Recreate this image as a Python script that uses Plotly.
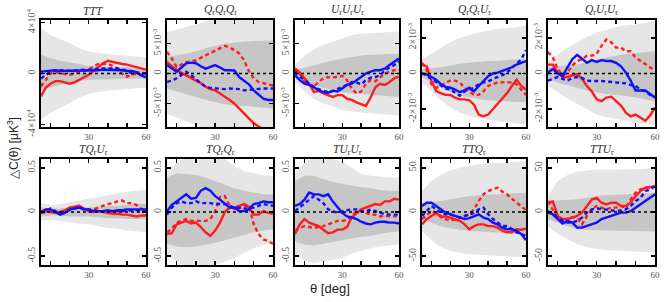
import plotly.graph_objects as go

# ---------------- data ----------------
THETA = [5, 7.5, 10, 12.5, 15, 17.5, 20, 22.5, 25, 27.5, 30, 32.5, 35, 37.5,
         40, 42.5, 45, 47.5, 50, 52.5, 55, 57.5, 60]
THETA_BAND = [5, 10, 15, 20, 25, 30, 35, 40, 45, 50, 55, 60]

PANELS = ["TTT", "QQQ", "UUU", "QQU", "QUU", "TQU", "TQQ", "TUU", "TTQ", "TTU"]
TITLES = ["<i>TTT</i>",
          "<i>Q</i><sub>r</sub><i>Q</i><sub>r</sub><i>Q</i><sub>r</sub>",
          "<i>U</i><sub>r</sub><i>U</i><sub>r</sub><i>U</i><sub>r</sub>",
          "<i>Q</i><sub>r</sub><i>Q</i><sub>r</sub><i>U</i><sub>r</sub>",
          "<i>Q</i><sub>r</sub><i>U</i><sub>r</sub><i>U</i><sub>r</sub>",
          "<i>TQ</i><sub>r</sub><i>U</i><sub>r</sub>",
          "<i>TQ</i><sub>r</sub><i>Q</i><sub>r</sub>",
          "<i>TU</i><sub>r</sub><i>U</i><sub>r</sub>",
          "<i>TTQ</i><sub>r</sub>",
          "<i>TTU</i><sub>r</sub>"]
# value unit of each panel's lists
UNITS = [1e3, 1e-3, 1e-3, 1e-3, 1e-3, 1, 1, 1, 1, 1]
Y_LIMITS = [4.2e4, 8.9e-3, 8.9e-3, 3.0e-3, 3.0e-3, 0.6, 0.6, 0.6, 60, 60]
Y_TICKVALS = [[-4e4, 0, 4e4], [-5e-3, 0, 5e-3], [-5e-3, 0, 5e-3], [-2e-3, 0, 2e-3],
              [-2e-3, 0, 2e-3], [-0.5, 0, 0.5], [-0.5, 0, 0.5], [-0.5, 0, 0.5],
              [-50, 0, 50], [-50, 0, 50]]
Y_TICKTEXT = [["-4×10<sup>4</sup>", "0", "4×10<sup>4</sup>"],
              ["-5×10<sup>-3</sup>", "0", "5×10<sup>-3</sup>"],
              ["-5×10<sup>-3</sup>", "0", "5×10<sup>-3</sup>"],
              ["-2×10<sup>-3</sup>", "0", "2×10<sup>-3</sup>"],
              ["-2×10<sup>-3</sup>", "0", "2×10<sup>-3</sup>"],
              ["-0.5", "0", "0.5"], ["-0.5", "0", "0.5"], ["-0.5", "0", "0.5"],
              ["-50", "0", "50"], ["-50", "0", "50"]]
X_TICKVALS = [30, 60]
X_TICKTEXT = ["30", "60"]

# --- TTT (x1e3) ---
ttt_red_solid = [-18, -11, -8, -6, -6, -7, -8, -7, -5, -3, -1, 2, 5, 8, 10, 9, 8, 7.5, 7, 6, 5, 4, 3]
ttt_red_dash = [-10, -5, 0, 1, 0, -0.5, -1, 0, 1, 1.5, 3, 5.5, 7.5, 7.5, 7.5, 6, 4, 0, -2.5, -1, 0, -1, 0]
ttt_blue_solid = [1.5, 2, 2, 2.5, 2, 2, 2.5, 2.5, 2.5, 2.5, 2.5, 2.5, 2.5, 3, 3, 3, 2.5, 2.5, 2, 2, 1, -1.5, -3]
ttt_blue_dash = [-4, -1, 1, 2.5, 2.5, 2, 2, 2.5, 3, 3, 3, 3.5, 4, 4, 4, 4, 4, 3, 2.5, 0, 1, 0.5, 0]
ttt_outer_hi = [36, 30, 27, 24, 20, 17.5, 16, 15, 14.5, 14, 13, 12.5]
ttt_outer_lo = [-36, -31, -27, -23, -19, -16, -14.5, -13.5, -12.5, -12, -11.5, -11]
ttt_inner_hi = [15, 12, 10, 8.5, 7, 6, 5.5, 5, 5, 5, 4.5, 4.5]
ttt_inner_lo = [-14, -11, -9, -7, -6, -5, -5, -4.5, -4.5, -4, -4, -4]

# --- QrQrQr (x1e-3) ---
qqq_red_solid = [1.9, 1.2, 0.55, 0.1, -0.3, -0.7, -1.1, -1.6, -2.2, -2.6, -2.8, -3.3, -3.9, -4.4, -5.0, -5.8, -6.7, -7.5, -8.3, -8.8, -9.3, -9.8, -10.3]
qqq_red_dash = [3.6, 2.5, 1.1, 1.5, 1.9, 2.0, 2.2, 2.6, 3.0, 3.5, 3.9, 4.3, 4.6, 4.3, 3.9, 3.3, 2.2, 0.4, -0.8, -1.4, -1.6, -1.8, -2.0]
qqq_blue_solid = [1.4, 0.8, 0.3, 1.0, 1.7, 1.8, 1.7, 1.2, 0.8, 1.1, 1.4, 1.0, 0.55, 0.55, 0.5, -0.6, -1.2, -1.8, -2.8, -3.5, -4.2, -4.4, -4.4]
qqq_blue_dash = [-1.4, -1.2, -0.8, -0.2, 0.3, -0.3, -0.9, -1.6, -2.2, -2.4, -2.5, -2.6, -2.6, -2.5, -2.5, -2.6, -2.8, -2.7, -2.6, -2.5, -2.5, -2.5, -2.5]
qqq_outer_hi = [6.9, 7.3, 7.7, 8.1, 8.6, 9.2, 9.6, 10, 10, 10, 10, 10]
qqq_outer_lo = [-6.7, -7.3, -8.0, -8.6, -9.2, -9.6, -10, -10, -10, -10, -10, -10]
qqq_inner_hi = [2.8, 3.0, 3.3, 3.7, 4.2, 4.6, 5.0, 5.2, 5.3, 5.4, 5.4, 5.5]
qqq_inner_lo = [-2.5, -3.0, -3.4, -3.9, -4.4, -4.8, -5.1, -5.3, -5.5, -5.6, -5.7, -5.8]

# --- UrUrUr (x1e-3) ---
uuu_red_solid = [0.8, 0.2, -0.8, -1.7, -3.1, -2.9, -3.3, -3.6, -3.9, -3.6, -3.6, -4.2, -4.4, -4.8, -5.1, -5.4, -4.0, -2.3, -1.7, -1.9, -1.4, -0.8, -0.5]
uuu_red_dash = [0.8, 0.0, -1.4, -1.9, -2.1, -1.5, -0.8, -0.6, -0.7, -0.5, -0.4, -1.1, -2.5, -3.3, -3.0, -1.7, -1.1, -1.3, -0.6, 0.0, 0.3, 0.55, 0.6]
uuu_blue_solid = [-0.3, -1.1, -1.7, -1.9, -2.3, -2.8, -3.1, -3.2, -2.9, -3.0, -2.5, -1.9, -1.7, -1.1, -0.55, 0.0, 0.3, 0.55, 0.55, 0.8, 1.4, 1.9, 2.5]
uuu_blue_dash = [0.3, -0.5, -1.1, -1.7, -2.2, -2.6, -2.8, -3.1, -2.9, -2.6, -2.3, -1.9, -1.4, -1.5, -1.8, -1.1, -0.7, -0.6, -0.3, 0.5, 1.0, 1.4, 2.0]
uuu_outer_hi = [1.4, 3.0, 4.0, 4.8, 5.3, 5.9, 6.4, 6.6, 6.7, 6.8, 6.9, 7.0]
uuu_outer_lo = [-1.4, -3.0, -4.2, -5.0, -5.5, -6.1, -6.3, -6.5, -6.6, -6.8, -6.9, -7.0]
uuu_inner_hi = [0.55, 1.0, 1.4, 1.8, 2.2, 2.5, 2.8, 3.0, 3.1, 3.2, 3.3, 3.3]
uuu_inner_lo = [-0.55, -1.3, -1.9, -2.4, -2.8, -3.1, -3.3, -3.5, -3.6, -3.7, -3.8, -3.9]

# --- QrQrUr (x1e-3) ---
qqu_red_solid = [0.5, 0.4, -0.4, -1.0, -1.1, -1.2, -1.2, -1.35, -1.45, -1.45, -1.5, -1.75, -2.3, -2.4, -2.3, -2.0, -1.7, -1.4, -1.1, -0.7, -0.35, -0.7, -0.9]
qqu_red_dash = [0.6, 0.2, -0.6, -0.8, -0.7, -0.5, -0.4, -0.4, -0.5, -0.8, -1.0, -1.2, -1.2, -1.0, -0.7, -0.6, -0.5, -0.5, -0.5, -0.5, -0.6, -0.9, -1.2]
qqu_blue_solid = [0.0, -0.05, -0.2, -0.35, -0.6, -0.75, -0.8, -0.9, -1.05, -0.95, -0.8, -1.0, -0.7, -0.45, -0.15, 0.0, 0.05, 0.15, 0.25, 0.35, 0.5, 0.6, 0.7]
qqu_blue_dash = [0.0, -0.1, -0.3, -0.5, -0.7, -0.85, -0.9, -1.1, -1.25, -1.0, -0.9, -0.8, -0.6, -0.5, -0.45, -0.3, -0.2, -0.1, 0.05, 0.3, 0.6, 0.8, 1.3]
qqu_outer_hi = [0.8, 1.15, 1.45, 1.75, 2.0, 2.15, 2.3, 2.4, 2.5, 2.55, 2.6, 2.7]
qqu_outer_lo = [-0.5, -1.0, -1.5, -1.9, -2.2, -2.4, -2.5, -2.6, -2.65, -2.75, -2.8, -2.85]
qqu_inner_hi = [0.25, 0.3, 0.35, 0.45, 0.55, 0.6, 0.65, 0.7, 0.7, 0.75, 0.8, 0.8]
qqu_inner_lo = [-0.2, -0.5, -0.8, -1.05, -1.25, -1.35, -1.45, -1.5, -1.55, -1.55, -1.6, -1.6]

# --- QrUrUr (x1e-3) ---
quu_red_solid = [0.5, 0.5, 0.05, -0.2, -0.2, -0.1, -0.05, -0.3, -0.7, -1.0, -1.45, -1.55, -1.35, -1.3, -1.55, -1.8, -2.2, -2.4, -2.3, -2.5, -2.65, -2.35, -1.9]
quu_red_dash = [1.2, 0.9, 0.25, -0.1, 0.05, 0.45, 0.7, 0.8, 1.0, 1.0, 1.1, 1.55, 1.9, 1.75, 1.45, 1.45, 1.25, 1.25, 0.9, 0.7, 0.5, 0.35, 0.15]
quu_blue_solid = [0.05, 0.25, 0.0, -0.15, 0.35, 0.8, 1.05, 0.85, 0.6, 0.75, 0.65, 0.75, 0.7, 0.7, 0.6, 0.4, 0.05, -0.4, -0.95, -0.95, -0.95, -1.15, -1.35]
quu_blue_dash = [-0.4, -0.3, -0.2, -0.3, -0.4, -0.25, -0.2, -0.25, -0.4, -0.42, -0.4, -0.42, -0.45, -0.47, -0.5, -0.52, -0.55, -0.65, -0.7, -0.9, -1.0, -1.2, -1.35]
quu_outer_hi = [0.7, 1.1, 1.45, 1.75, 2.05, 2.3, 2.45, 2.6, 2.7, 2.75, 2.85, 2.95]
quu_outer_lo = [-0.7, -1.05, -1.4, -1.7, -2.0, -2.3, -2.45, -2.55, -2.65, -2.75, -2.8, -2.85]
quu_inner_hi = [0.35, 0.4, 0.45, 0.5, 0.65, 0.8, 0.9, 1.0, 1.1, 1.15, 1.2, 1.25]
quu_inner_lo = [-0.3, -0.5, -0.65, -0.8, -0.95, -1.05, -1.15, -1.2, -1.25, -1.35, -1.45, -1.55]

# --- TQrUr ---
tqu_red_solid = [0.0, 0.01, 0.0, -0.01, 0.0, 0.02, 0.05, 0.06, 0.07, 0.04, 0.01, 0.0, 0.01, 0.0, -0.01, -0.02, -0.02, -0.03, -0.03, -0.04, -0.05, -0.04, -0.04]
tqu_red_dash = [0.0, -0.01, 0.01, 0.0, -0.01, 0.01, 0.04, 0.05, 0.05, 0.03, 0.01, 0.03, 0.05, 0.07, 0.09, 0.1, 0.12, 0.13, 0.1, 0.1, 0.08, 0.04, 0.01]
tqu_blue_solid = [0.0, 0.03, 0.03, 0.0, -0.03, -0.01, 0.03, 0.04, 0.05, 0.03, 0.03, 0.01, 0.01, 0.01, 0.02, 0.01, 0.02, 0.02, 0.03, 0.03, 0.03, 0.03, 0.03]
tqu_blue_dash = [-0.01, 0.02, 0.04, 0.01, -0.01, 0.0, 0.02, 0.04, 0.05, 0.03, 0.03, 0.02, 0.01, 0.01, 0.01, 0.01, 0.01, 0.01, 0.01, 0.02, 0.02, 0.02, 0.02]
tqu_outer_hi = [0.1, 0.08, 0.09, 0.11, 0.13, 0.15, 0.17, 0.19, 0.21, 0.23, 0.24, 0.25]
tqu_outer_lo = [-0.1, -0.09, -0.1, -0.12, -0.13, -0.14, -0.16, -0.18, -0.19, -0.21, -0.22, -0.23]
tqu_inner_hi = [0.05, 0.04, 0.04, 0.05, 0.05, 0.05, 0.06, 0.07, 0.07, 0.08, 0.09, 0.09]
tqu_inner_lo = [-0.05, -0.04, -0.04, -0.05, -0.05, -0.05, -0.06, -0.07, -0.07, -0.08, -0.08, -0.08]

# --- TQrQr ---
tqq_red_solid = [-0.25, -0.24, -0.14, -0.12, -0.1, -0.13, -0.12, -0.17, -0.23, -0.27, -0.21, -0.12, 0.0, 0.05, 0.05, 0.07, 0.09, 0.06, -0.03, -0.03, 0.01, -0.01, -0.02]
tqq_red_dash = [-0.23, -0.19, -0.12, -0.1, -0.08, -0.1, -0.1, -0.1, -0.1, -0.08, 0.01, 0.17, 0.18, 0.07, 0.03, 0.04, 0.07, 0.07, -0.14, -0.25, -0.31, -0.33, -0.36]
tqq_blue_solid = [0.01, 0.08, 0.12, 0.16, 0.2, 0.15, 0.16, 0.24, 0.27, 0.24, 0.18, 0.14, 0.09, 0.05, 0.05, 0.01, 0.01, 0.03, 0.09, 0.1, 0.12, 0.11, 0.11]
tqq_blue_dash = [-0.03, 0.05, 0.1, 0.12, 0.1, 0.1, 0.12, 0.1, 0.1, 0.1, 0.09, 0.09, 0.09, 0.07, 0.05, 0.05, 0.04, 0.04, 0.05, 0.07, 0.09, 0.08, 0.07]
tqq_outer_hi = [0.46, 0.56, 0.62, 0.62, 0.62, 0.62, 0.6, 0.52, 0.46, 0.44, 0.42, 0.41]
tqq_outer_lo = [-0.48, -0.56, -0.62, -0.62, -0.62, -0.6, -0.56, -0.52, -0.46, -0.41, -0.37, -0.35]
tqq_inner_hi = [0.39, 0.44, 0.43, 0.42, 0.39, 0.35, 0.31, 0.27, 0.24, 0.22, 0.2, 0.2]
tqq_inner_lo = [-0.36, -0.39, -0.4, -0.39, -0.37, -0.35, -0.32, -0.29, -0.26, -0.23, -0.21, -0.2]

# --- TUrUr ---
tuu_red_solid = [-0.25, -0.14, -0.08, -0.12, -0.14, -0.16, -0.2, -0.24, -0.23, -0.2, -0.2, -0.17, -0.06, -0.01, 0.03, 0.05, 0.07, 0.09, 0.08, 0.12, 0.12, 0.15, 0.14]
tuu_red_dash = [-0.21, -0.18, -0.16, -0.17, -0.18, -0.17, -0.16, -0.14, -0.12, -0.1, -0.1, -0.09, -0.05, 0.01, 0.01, -0.01, -0.03, -0.03, -0.05, -0.04, -0.05, -0.05, -0.05]
tuu_blue_solid = [0.07, 0.09, 0.14, 0.22, 0.2, 0.2, 0.18, 0.2, 0.12, 0.05, -0.01, -0.05, -0.06, -0.08, -0.11, -0.13, -0.14, -0.12, -0.11, -0.11, -0.12, -0.12, -0.13]
tuu_blue_dash = [0.01, 0.05, 0.09, 0.14, 0.18, 0.14, 0.1, 0.03, 0.01, -0.01, 0.01, 0.02, 0.03, 0.03, 0.01, 0.01, 0.03, 0.01, -0.01, -0.02, -0.03, -0.03, -0.03]
tuu_outer_hi = [0.44, 0.56, 0.62, 0.62, 0.6, 0.57, 0.5, 0.43, 0.41, 0.4, 0.39, 0.39]
tuu_outer_lo = [-0.48, -0.55, -0.58, -0.56, -0.54, -0.52, -0.47, -0.44, -0.41, -0.39, -0.38, -0.37]
tuu_inner_hi = [0.35, 0.41, 0.41, 0.37, 0.34, 0.32, 0.3, 0.28, 0.27, 0.25, 0.24, 0.24]
tuu_inner_lo = [-0.33, -0.37, -0.38, -0.36, -0.34, -0.32, -0.3, -0.28, -0.27, -0.25, -0.23, -0.22]

# --- TTQr ---
ttq_red_solid = [-14, -8, -4.5, -1, -6, -5, -6.5, -8, -10, -14, -19.5, -16, -14, -14, -16, -16, -17.7, -21, -23, -23, -19.5, -20, -19]
ttq_red_dash = [-8, -3, 1, -1, -4.5, -8, -10, -8, -6.4, -4.5, -2.6, 3, 12.4, 20, 23.7, 26, 27.5, 23, 20, 15, 10.5, 6.8, 2]
ttq_blue_solid = [6.8, 10.5, 10.5, 7, 3, -0.75, -2.6, -4.5, -6.4, -8, -7, -4.5, -2.6, -6.4, -8, -12, -14, -17.7, -19.5, -19.5, -21.4, -25, -32]
ttq_blue_dash = [-4.5, 1, 6.8, 3, -0.75, -2.6, -2.6, -4.5, -6, -4.5, -2.6, -1, 3, 4.9, -2.6, -8, -12, -15.8, -15.8, -19.5, -23, -25, -27]
ttq_outer_hi = [23.7, 35, 42.5, 47, 50, 52, 54, 55, 55.6, 56, 57, 57.5]
ttq_outer_lo = [-21.4, -32, -40, -44, -46.5, -47.8, -48.5, -49, -49.6, -50.5, -51, -51.5]
ttq_inner_hi = [10.5, 11.5, 12.4, 14.5, 16.5, 18, 19, 19.5, 20, 20.8, 21.3, 21.8]
ttq_inner_lo = [-8, -12, -16, -18.5, -20, -21.4, -22.3, -23, -23.3, -24, -24.5, -25]

# --- TTUr ---
ttu_red_solid = [10.5, 12, -4.5, -8, -8, -6.4, -4.5, -0.75, 6.8, 14, 16, 10.5, 8.6, 10.5, 10.5, 6.8, 6.8, 10.5, 18, 23.7, 27.5, 28, 29]
ttu_red_dash = [12.4, 3, -8, -10, -8, -5.6, -6.4, -14, -4.5, 3, 6.8, 4.9, 3, 4.9, 4.9, 6.8, 5, 14, 21.8, 25.6, 27.5, 28, 29]
ttu_blue_solid = [1, -2.6, -8, -13, -10, -12, -17.7, -17.7, -15.8, -14, -12, -8, -6.4, -4.5, -2.6, -0.75, -0.75, 1, 4.9, 8.6, 12.4, 16, 20]
ttu_blue_dash = [-0.75, -2.6, -6.4, -10, -12, -12, -10, -6.4, -0.75, 3, 4, 3.5, 3, 2, 1, 2, 3, 6.8, 12.4, 16, 23.7, 25.6, 29]
ttu_outer_hi = [18, 35, 42, 46, 47, 48, 48, 48, 48, 48.5, 49, 50]
ttu_outer_lo = [-16, -25, -31, -36.5, -40, -42, -43, -43.5, -44, -45, -45.5, -46]
ttu_inner_hi = [12.4, 13, 13.5, 14.3, 16, 18, 19, 19.5, 20, 20.5, 21, 21.8]
ttu_inner_lo = [-8, -12, -16, -19.5, -20.5, -21.4, -21.5, -21.5, -21.5, -21.7, -21.8, -22]

CURVES = {
    "TTT": (ttt_red_solid, ttt_red_dash, ttt_blue_solid, ttt_blue_dash),
    "QQQ": (qqq_red_solid, qqq_red_dash, qqq_blue_solid, qqq_blue_dash),
    "UUU": (uuu_red_solid, uuu_red_dash, uuu_blue_solid, uuu_blue_dash),
    "QQU": (qqu_red_solid, qqu_red_dash, qqu_blue_solid, qqu_blue_dash),
    "QUU": (quu_red_solid, quu_red_dash, quu_blue_solid, quu_blue_dash),
    "TQU": (tqu_red_solid, tqu_red_dash, tqu_blue_solid, tqu_blue_dash),
    "TQQ": (tqq_red_solid, tqq_red_dash, tqq_blue_solid, tqq_blue_dash),
    "TUU": (tuu_red_solid, tuu_red_dash, tuu_blue_solid, tuu_blue_dash),
    "TTQ": (ttq_red_solid, ttq_red_dash, ttq_blue_solid, ttq_blue_dash),
    "TTU": (ttu_red_solid, ttu_red_dash, ttu_blue_solid, ttu_blue_dash),
}
BANDS = {
    "TTT": (ttt_outer_hi, ttt_outer_lo, ttt_inner_hi, ttt_inner_lo),
    "QQQ": (qqq_outer_hi, qqq_outer_lo, qqq_inner_hi, qqq_inner_lo),
    "UUU": (uuu_outer_hi, uuu_outer_lo, uuu_inner_hi, uuu_inner_lo),
    "QQU": (qqu_outer_hi, qqu_outer_lo, qqu_inner_hi, qqu_inner_lo),
    "QUU": (quu_outer_hi, quu_outer_lo, quu_inner_hi, quu_inner_lo),
    "TQU": (tqu_outer_hi, tqu_outer_lo, tqu_inner_hi, tqu_inner_lo),
    "TQQ": (tqq_outer_hi, tqq_outer_lo, tqq_inner_hi, tqq_inner_lo),
    "TUU": (tuu_outer_hi, tuu_outer_lo, tuu_inner_hi, tuu_inner_lo),
    "TTQ": (ttq_outer_hi, ttq_outer_lo, ttq_inner_hi, ttq_inner_lo),
    "TTU": (ttu_outer_hi, ttu_outer_lo, ttu_inner_hi, ttu_inner_lo),
}

# ---------------- layout / styling ----------------
W, H = 665, 302
COL_PX = [(41, 146), (167, 273), (295, 399), (422, 526), (548, 655)]
ROW_PX = [(20, 127), (159, 265)]
OUTER_COLOR = "#e6e6e6"
INNER_COLOR = "#c6c6c6"
RED = "#ff1c1c"
BLUE = "#1010ff"
SERIF = "Liberation Serif, DejaVu Serif, serif"
SANS = "Liberation Sans, Arial, sans-serif"

fig = go.Figure()
layout = dict(template="none", width=W, height=H,
              margin=dict(l=0, r=0, t=0, b=0, pad=0, autoexpand=False),
              paper_bgcolor="white", plot_bgcolor="white", showlegend=False)
annotations = []
shapes = []

for i, key in enumerate(PANELS):
    n = i + 1
    row, col = divmod(i, 5)
    xs = "x" if n == 1 else f"x{n}"
    ys = "y" if n == 1 else f"y{n}"
    u = UNITS[i]
    o_hi, o_lo, i_hi, i_lo = BANDS[key]
    for hi, lo, colr in ((o_hi, o_lo, OUTER_COLOR), (i_hi, i_lo, INNER_COLOR)):
        fig.add_trace(go.Scatter(
            x=THETA_BAND + THETA_BAND[::-1],
            y=[v * u for v in hi] + [v * u for v in lo][::-1],
            fill="toself", fillcolor=colr, line=dict(width=0), mode="lines",
            hoverinfo="skip", xaxis=xs, yaxis=ys))
    rs, rd, bs, bd = CURVES[key]
    for vals, colr, dash in ((rd, RED, "4px,3px"), (rs, RED, "solid"),
                             (bd, BLUE, "4px,3px"), (bs, BLUE, "solid")):
        fig.add_trace(go.Scatter(
            x=THETA, y=[v * u for v in vals], mode="lines",
            line=dict(color=colr, width=2.4, dash=dash),
            xaxis=xs, yaxis=ys))
    x0, x1 = COL_PX[col]
    y0, y1 = ROW_PX[row]
    xd = [x0 / W, x1 / W]
    yd = [1 - y1 / H, 1 - y0 / H]
    axname = "xaxis" if n == 1 else f"xaxis{n}"
    ayname = "yaxis" if n == 1 else f"yaxis{n}"
    layout[axname] = dict(
        domain=xd, anchor=ys, range=[5, 60], automargin=False,
        showgrid=False, zeroline=False,
        showline=True, linecolor="black", linewidth=2, mirror="ticks",
        ticks="inside", ticklen=4, tickwidth=1.5, tickcolor="black",
        tickmode="array", tickvals=X_TICKVALS, ticktext=X_TICKTEXT,
        minor=dict(tickmode="linear", tick0=0, dtick=10, ticks="inside",
                   ticklen=4, tickwidth=1.5, tickcolor="black", showgrid=False),
        tickfont=dict(family=SERIF, size=9, color="#555555"))
    lim = Y_LIMITS[i]
    layout[ayname] = dict(
        domain=yd, anchor=xs, range=[-lim, lim], automargin=False,
        showgrid=False, zeroline=False,
        showline=True, linecolor="black", linewidth=2, mirror="ticks",
        ticks="inside", ticklen=4, tickwidth=1.5, tickcolor="black",
        tickmode="array", tickvals=Y_TICKVALS[i], ticktext=Y_TICKTEXT[i],
        tickangle=-90,
        tickfont=dict(family=SERIF, size=10, color="#555555"))
    # dotted zero line
    shapes.append(dict(type="line", xref=f"{xs} domain", yref=ys, x0=0, x1=1,
                       y0=0, y1=0, line=dict(color="black", width=1.6, dash="dot"),
                       layer="above"))
    annotations.append(dict(
        text=TITLES[i], xref="paper", yref="paper",
        x=(x0 + x1) / 2 / W, y=1 - (y0 - 0.5) / H, xanchor="center", yanchor="bottom",
        showarrow=False, font=dict(family=SERIF, size=11.5, color="#333333")))

annotations.append(dict(text="△C(θ) [μK<sup>3</sup>]", xref="paper", yref="paper",
                        x=13 / W, y=1 - 148 / H, textangle=-90, showarrow=False,
                        xanchor="center", yanchor="middle",
                        font=dict(family=SANS, size=12, color="#222222")))
annotations.append(dict(text="θ [deg]", xref="paper", yref="paper",
                        x=330 / W, y=1 - 288 / H, showarrow=False,
                        xanchor="center", yanchor="middle",
                        font=dict(family=SANS, size=13, color="#222222")))

layout["annotations"] = annotations
layout["shapes"] = shapes
fig.update_layout(**layout)
fig.write_html("out.html",
               config={"displayModeBar": False, "staticPlot": True},
               post_script="document.body.style.margin='0';"
                           "document.body.style.padding='0';")
